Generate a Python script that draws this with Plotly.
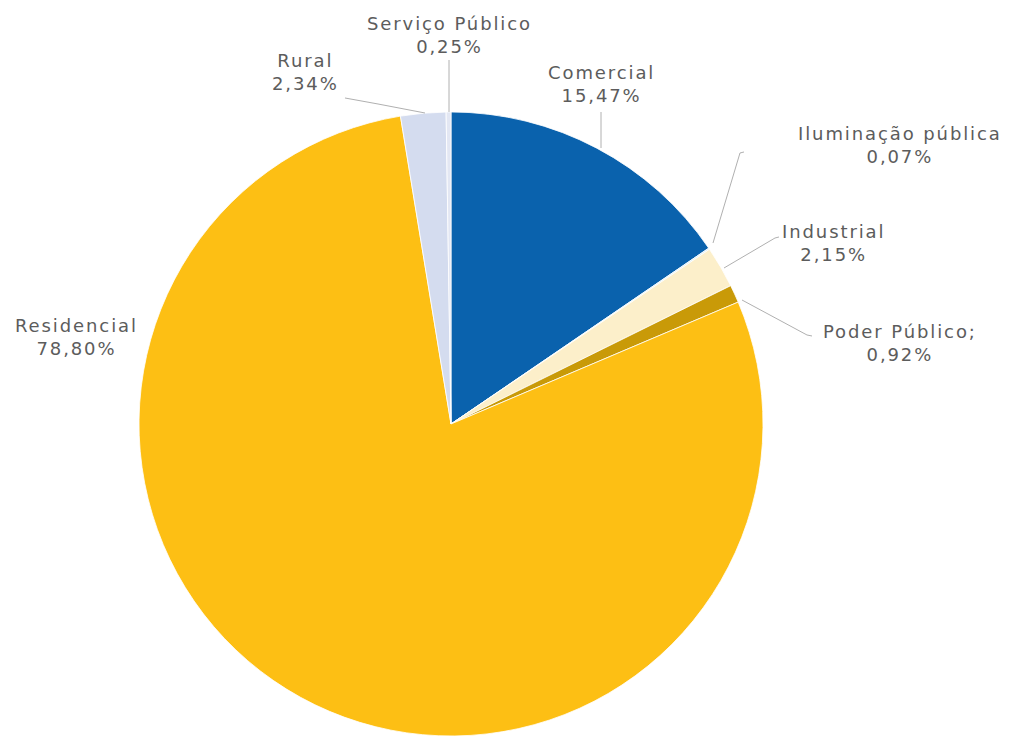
import plotly.graph_objects as go

# Consumption share by customer class (%)
classes = ["Comercial", "Iluminação pública", "Industrial", "Poder Público",
           "Residencial", "Rural", "Serviço Público"]
shares = [15.47, 0.07, 2.15, 0.92, 78.80, 2.34, 0.25]
share_labels = ["15,47%", "0,07%", "2,15%", "0,92%", "78,80%", "2,34%", "0,25%"]
label_names = ["Comercial", "Iluminação pública", "Industrial", "Poder Público;",
               "Residencial", "Rural", "Serviço Público"]
colors = ["#0a62ad", "#cde9f7", "#fcefca", "#c99a08", "#fdbf14", "#d4dcef", "#e3e7f3"]

W, H = 1013, 736
CX, CY, R = 451, 424, 312  # pie centre / radius in pixels


def px(x, y):
    return x / W, 1 - y / H


fig = go.Figure()
fig.add_trace(go.Pie(
    labels=classes,
    values=shares,
    sort=False,
    direction="clockwise",
    rotation=0,
    textinfo="none",
    hoverinfo="label+percent",
    marker=dict(colors=colors, line=dict(color="white", width=0.8)),
    domain=dict(x=[(CX - R) / W, (CX + R) / W], y=[0, 2 * (H - CY) / H]),
    showlegend=False,
))

# label anchor positions (pixel centre of the two-line block)
label_pos = {
    "Comercial": (601, 84),
    "Iluminação pública": (900, 145),
    "Industrial": (833, 243),
    "Poder Público": (900, 343),
    "Residencial": (76, 337),
    "Rural": (305, 72),
    "Serviço Público": (449, 35),
}

SPACED = '<span style="letter-spacing:1.9px">{}</span>'

annotations = []
for name, lab, pct in zip(classes, label_names, share_labels):
    x, y = px(*label_pos[name])
    annotations.append(dict(
        x=x, y=y, xref="paper", yref="paper",
        text=SPACED.format(lab) + "<br>" + SPACED.format(pct),
        showarrow=False, align="center",
        xanchor="center", yanchor="middle",
        font=dict(family="DejaVu Sans", size=18, color="#5c5c5c"),
    ))

# leader lines (pixel polylines)
leaders = [
    [(449, 60), (449, 112)],
    [(345, 98), (378, 104), (425, 113)],
    [(601, 112), (601, 148)],
    [(713, 243), (740, 153), (744, 152)],
    [(724, 268), (775, 238), (779, 237)],
    [(742, 300), (807, 335), (812, 336)],
]
shapes = []
for pts in leaders:
    path = ""
    for i, (x, y) in enumerate(pts):
        xx, yy = px(x, y)
        path += ("M" if i == 0 else " L") + f" {xx:.5f},{yy:.5f}"
    shapes.append(dict(type="path", path=path, xref="paper", yref="paper",
                       line=dict(color="#b0b0b0", width=1)))

fig.update_layout(
    width=W, height=H,
    margin=dict(l=0, r=0, t=0, b=0),
    paper_bgcolor="white", plot_bgcolor="white",
    annotations=annotations,
    shapes=shapes,
)

fig.write_html("out.html")
